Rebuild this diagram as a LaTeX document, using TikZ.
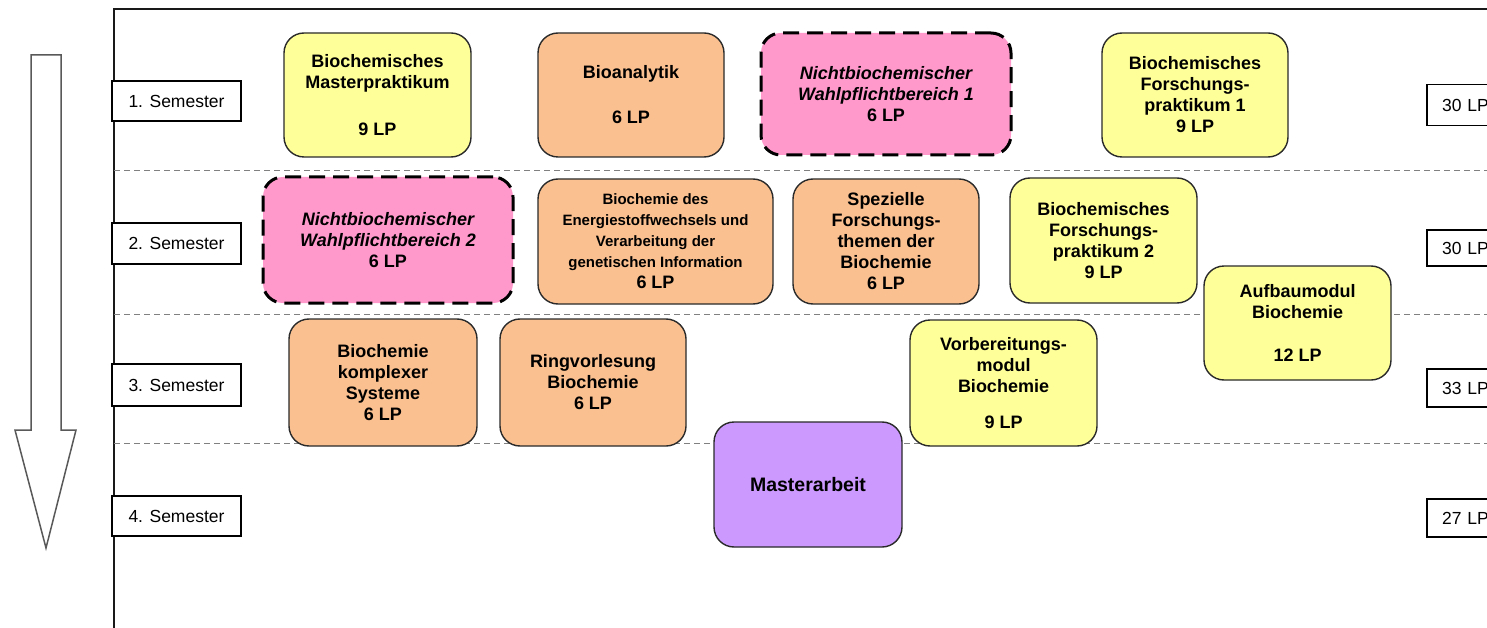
\documentclass[tikz,border=0pt]{standalone}
\usepackage{fontspec}
\setmainfont{Liberation Sans}
\definecolor{yel}{HTML}{FFFF99}
\definecolor{ora}{HTML}{FAC090}
\definecolor{pnk}{HTML}{FF99CC}
\definecolor{pur}{HTML}{CC99FF}
\definecolor{edge}{HTML}{2A2A2A}
\begin{document}
\begin{tikzpicture}[x=1pt,y=-1pt,
  modbox/.style={rounded corners=20pt, draw=edge, line width=1.4pt, align=center,
    inner sep=0pt, font=\bfseries\fontsize{18}{21}\selectfont},
  yelbox/.style={modbox, fill=yel},
  orabox/.style={modbox, fill=ora},
  purbox/.style={modbox, fill=pur},
  wpbox/.style={modbox, fill=pnk, draw=black, line width=3pt, dash pattern=on 16pt off 8pt,
    font=\bfseries\itshape\fontsize{18}{21}\selectfont},
  semlabel/.style={draw=black, line width=1.3pt, fill=white, minimum width=129pt, inner sep=0pt,
    font=\fontsize{17.5}{20}\selectfont},
  lplabel/.style={draw=black, line width=1.3pt, fill=white, text width=50pt, inner xsep=15pt,
    inner ysep=0pt, align=left, font=\fontsize{17.5}{20}\selectfont},
  sepline/.style={draw=black!50, line width=1pt, dash pattern=on 6pt off 4pt},
  frameline/.style={draw=black!90, line width=1.5pt},
  timearrow/.style={draw=black!65, line width=1.5pt, fill=white}
]
\useasboundingbox (0,0) rectangle (1487,628);
\clip (0,0) rectangle (1487,628);

% frame and separators
\draw[frameline] (114,628) -- (114,9) -- (1490,9);
\draw[sepline] (114,171) -- (1487,171);
\draw[sepline] (114,314) -- (1487,314);
\draw[sepline] (114,443) -- (1487,443);

% time arrow
\draw[timearrow] (31,55) -- (61,55) -- (61,430) -- (76,430) -- (46,548) -- (15,430) -- (31,430) -- cycle;

% semester labels
\node[semlabel, minimum height=40pt] (s1) at (176.5,101) {1. Semester};
\node[semlabel, minimum height=41pt] (s2) at (176.5,243.5) {2. Semester};
\node[semlabel, minimum height=42pt] (s3) at (176.5,385) {3. Semester};
\node[semlabel, minimum height=40pt] (s4) at (176.5,516) {4. Semester};

% LP labels
\node[lplabel, minimum height=41pt] (lp1) at (1467,105) {30 LP};
\node[lplabel, minimum height=36pt] (lp2) at (1467,248) {30 LP};
\node[lplabel, minimum height=38pt] (lp3) at (1467,388) {33 LP};
\node[lplabel, minimum height=38pt] (lp4) at (1467,518) {27 LP};

% semester 1
\node[yelbox, minimum width=187pt, minimum height=124pt] (mp) at (377.5,95)
  {Biochemisches\\Masterpraktikum\\[26pt]9 LP};
\node[orabox, minimum width=186pt, minimum height=124pt] (ba) at (631,95)
  {Bioanalytik\\[24pt]6 LP};
\node[wpbox, minimum width=250pt, minimum height=122pt] (wp1) at (886,94)
  {Nichtbiochemischer\\Wahlpflichtbereich 1\\\textup{6 LP}};
\node[yelbox, minimum width=186pt, minimum height=124pt] (fp1) at (1195,95)
  {Biochemisches\\Forschungs-\\praktikum 1\\9 LP};

% semester 2
\node[wpbox, minimum width=250pt, minimum height=126pt] (wp2) at (388,240)
  {Nichtbiochemischer\\Wahlpflichtbereich 2\\\textup{6 LP}};
\node[orabox, minimum width=235pt, minimum height=125pt] (en) at (655.5,241.5)
  {{\fontsize{15}{18.7}\selectfont Biochemie des}\\
   {\fontsize{15}{18.7}\selectfont Energiestoffwechsels und}\\
   {\fontsize{15}{18.7}\selectfont Verarbeitung der}\\
   {\fontsize{15}{18.7}\selectfont genetischen Information}\\
   6 LP};
\node[orabox, minimum width=186pt, minimum height=125pt] (sf) at (886,241.5)
  {Spezielle\\Forschungs-\\themen der\\Biochemie\\6 LP};
\node[yelbox, minimum width=187pt, minimum height=125pt] (fp2) at (1103.5,240.5)
  {Biochemisches\\Forschungs-\\praktikum 2\\9 LP};
\node[yelbox, minimum width=187pt, minimum height=114pt] (am) at (1297.5,323)
  {Aufbaumodul\\Biochemie\\[22pt]12 LP};

% semester 3
\node[orabox, minimum width=188pt, minimum height=127pt] (ks) at (383,382.5)
  {Biochemie\\komplexer\\Systeme\\6 LP};
\node[orabox, minimum width=186pt, minimum height=127pt] (rv) at (593,382.5)
  {Ringvorlesung\\Biochemie\\6 LP};
\node[yelbox, minimum width=187pt, minimum height=126pt] (vm) at (1003.5,383)
  {Vorbereitungs-\\modul\\Biochemie\\[15pt]9 LP};

% semester 4
\node[purbox, minimum width=188pt, minimum height=125pt,
  font=\bfseries\fontsize{19.5}{22}\selectfont] (ma) at (808,484.5) {Masterarbeit};
\end{tikzpicture}
\end{document}
